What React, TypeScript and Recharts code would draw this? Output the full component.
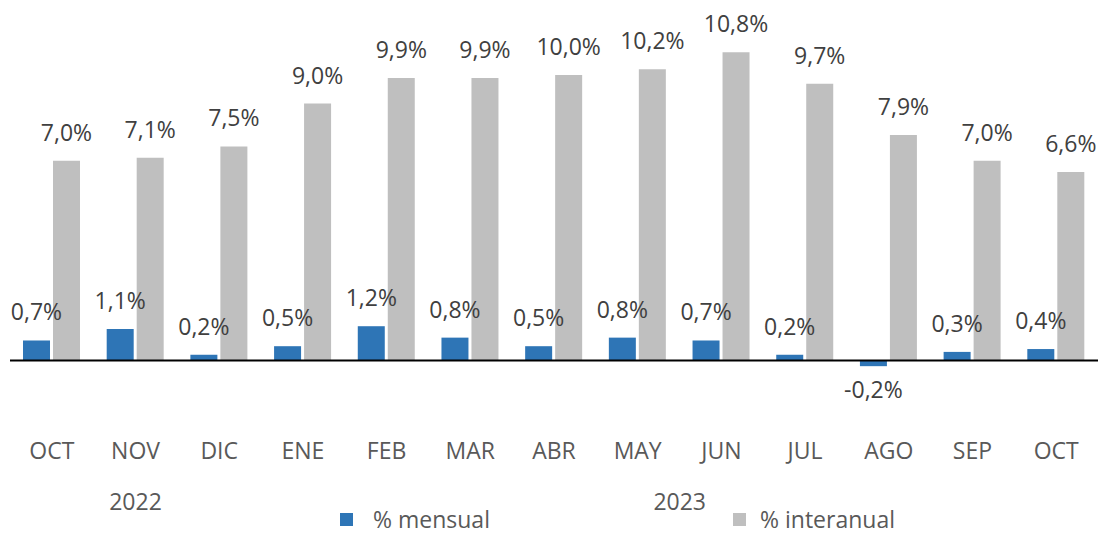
import { Bar, BarChart, LabelList, ReferenceLine, XAxis, YAxis } from "recharts"

const months = ["OCT", "NOV", "DIC", "ENE", "FEB", "MAR", "ABR", "MAY", "JUN", "JUL", "AGO", "SEP", "OCT"]
const mensual = [0.7, 1.1, 0.2, 0.5, 1.2, 0.8, 0.5, 0.8, 0.7, 0.2, -0.2, 0.3, 0.4]
const interanual = [7.0, 7.1, 7.5, 9.0, 9.9, 9.9, 10.0, 10.2, 10.8, 9.7, 7.9, 7.0, 6.6]
const years = [{ index: 1, label: "2022", shift: 0 }, { index: 7, label: "2023", shift: 42 }]

const data = months.map((m, i) => ({ key: i, month: m, mensual: mensual[i], interanual: interanual[i] }))

const font = "'Open Sans', 'Noto Sans', sans-serif"
const fmt = (v: number) => v.toFixed(1).replace(".", ",") + "%"

function ValueLabel(props: any) {
    const { x, y, width, height, value } = props
    const cx = x + width / 2
    const neg = value < 0
    const ty = neg ? y + height + 38 : y - 20
    return (
        <text x={cx} y={ty} textAnchor="middle" fontSize={23} fill="#404040" fontFamily={font}>
            {fmt(value)}
        </text>
    )
}

function MonthTick(props: any) {
    const { x, y, payload } = props
    const yr = years.find(t => t.index === payload.index)
    return (
        <g>
            <text x={x} y={y + 62} textAnchor="middle" fontSize={23} fill="#595959" fontFamily={font}>
                {months[payload.index]}
            </text>
            {yr && (
                <text x={x + yr.shift} y={y + 113} textAnchor="middle" fontSize={23} fill="#595959" fontFamily={font}>
                    {yr.label}
                </text>
            )}
        </g>
    )
}

const legendRow = { position: "absolute" as const, top: 508, height: 22, display: "flex", alignItems: "center", fontFamily: font, fontSize: 23, lineHeight: "22px", color: "#595959" }
const legendText = { display: "inline-block", height: 22, lineHeight: "22px" }

export default function App() {
    return (
        <div style={{ position: "absolute", left: 0, top: 0, width: 1099, height: 535, background: "#fff" }}>
            <BarChart
                width={1099}
                height={535}
                data={data}
                margin={{ top: 18, right: 1, bottom: 86, left: 10 }}
                barSize={27}
                barGap={3}
            >
                <XAxis dataKey="key" axisLine={false} tickLine={false} tick={<MonthTick />} height={60} interval={0} />
                <YAxis hide domain={[-1, 12]} />
                <Bar dataKey="mensual" fill="#2E75B6" isAnimationActive={false}>
                    <LabelList dataKey="mensual" content={<ValueLabel />} />
                </Bar>
                <Bar dataKey="interanual" fill="#BFBFBF" isAnimationActive={false}>
                    <LabelList dataKey="interanual" content={<ValueLabel />} />
                </Bar>
                <ReferenceLine y={0} stroke="#000" strokeWidth={2} />
            </BarChart>
            <div style={{ ...legendRow, left: 340 }}>
                <span style={{ width: 13, height: 13, background: "#2E75B6", display: "inline-block", marginRight: 20 }} />
                <span style={legendText}>% mensual</span>
            </div>
            <div style={{ ...legendRow, left: 733 }}>
                <span style={{ width: 13, height: 13, background: "#BFBFBF", display: "inline-block", marginRight: 14 }} />
                <span style={legendText}>% interanual</span>
            </div>
        </div>
    )
}
